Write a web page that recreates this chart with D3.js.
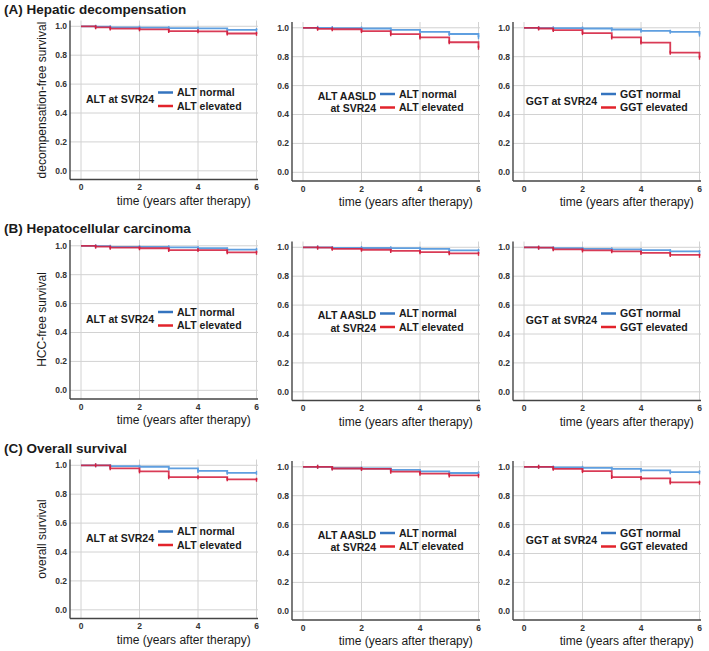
<!DOCTYPE html>
<html lang="en">
<head>
    <meta charset="UTF-8">
    <title>Kaplan-Meier after SVR24</title>
    <style>
        body {
            margin: 0;
            padding: 0;
            background: #fff;
            font-family: 'Liberation Sans', Arial, sans-serif;
        }
        svg text { fill: #1a1a1a; }
        .grid line { stroke: #d2d2d2; stroke-width: 1; }
        .frame { stroke: #444; stroke-width: 1.4; }
    </style>
    <script src="https://d3js.org/d3.v7.min.js"></script>
</head>
<body>
<div id="chart"></div>
<script>
    // follow-up times (years after therapy)
    const years = [0, 0.5, 1, 2, 3, 4, 5, 6];

    // (A) hepatic decompensation
    const decompAltNormal = [1, 0.997, 0.993, 0.991, 0.987, 0.985, 0.975, 0.974];
    const decompAltElevated = [1, 0.993, 0.984, 0.979, 0.967, 0.965, 0.950, 0.948];
    const decompAasldNormal = [1, 1, 0.998, 0.995, 0.986, 0.971, 0.957, 0.935];
    const decompAasldElevated = [1, 0.993, 0.990, 0.977, 0.956, 0.933, 0.900, 0.862];
    const decompGgtNormal = [1, 0.998, 0.997, 0.995, 0.988, 0.979, 0.972, 0.953];
    const decompGgtElevated = [1, 0.995, 0.984, 0.963, 0.933, 0.898, 0.828, 0.793];

    // (B) hepatocellular carcinoma
    const hccAltNormal = [1, 0.997, 0.993, 0.992, 0.989, 0.983, 0.973, 0.972];
    const hccAltElevated = [1, 0.994, 0.987, 0.983, 0.970, 0.970, 0.955, 0.952];
    const hccAasldNormal = [1, 1, 0.995, 0.995, 0.994, 0.989, 0.978, 0.975];
    const hccAasldElevated = [1, 0.997, 0.989, 0.983, 0.975, 0.966, 0.958, 0.955];
    const hccGgtNormal = [1, 0.998, 0.994, 0.989, 0.986, 0.980, 0.972, 0.966];
    const hccGgtElevated = [1, 0.997, 0.986, 0.978, 0.972, 0.961, 0.947, 0.941];

    // (C) overall survival
    const osAltNormal = [1, 1, 0.994, 0.990, 0.978, 0.961, 0.948, 0.948];
    const osAltElevated = [1, 1, 0.979, 0.958, 0.918, 0.918, 0.903, 0.900];
    const osAasldNormal = [1, 1, 0.990, 0.988, 0.978, 0.968, 0.957, 0.955];
    const osAasldElevated = [1, 1, 0.988, 0.985, 0.966, 0.952, 0.940, 0.938];
    const osGgtNormal = [1, 1, 0.995, 0.993, 0.986, 0.975, 0.963, 0.962];
    const osGgtElevated = [1, 1, 0.986, 0.970, 0.929, 0.920, 0.892, 0.890];

    const rowTitles = ["(A) Hepatic decompensation", "(B) Hepatocellular carcinoma", "(C) Overall survival"];
    const yTitles = ["decompensation-free survival", "HCC-free survival", "overall survival"];
    const groupTitles = [["ALT at SVR24"], ["ALT AASLD", "at SVR24"], ["GGT at SVR24"]];
    const normalLabels = ["ALT normal", "ALT normal", "GGT normal"];
    const elevatedLabels = ["ALT elevated", "ALT elevated", "GGT elevated"];
    const xTicks = [0, 2, 4, 6];
    const yTicks = [0, 0.2, 0.4, 0.6, 0.8, 1.0];
    const xTitle = "time (years after therapy)";

    const panels = [
        [[decompAltNormal, decompAltElevated], [decompAasldNormal, decompAasldElevated], [decompGgtNormal, decompGgtElevated]],
        [[hccAltNormal, hccAltElevated], [hccAasldNormal, hccAasldElevated], [hccGgtNormal, hccGgtElevated]],
        [[osAltNormal, osAltElevated], [osAasldNormal, osAasldElevated], [osGgtNormal, osGgtElevated]]
    ];

    const width = 709, height = 651;
    const colX = [70, 292, 513];
    const rowTop = [22, 241.5, 461];
    const plotW = 188, plotH = 159;
    const curveBlue = "#5f9fe0", curveRed = "#d4203f";
    const legBlue = "#3474bf", legRed = "#e2232b";

    const svg = d3.select("#chart").append("svg")
        .attr("width", width)
        .attr("height", height);

    rowTitles.forEach((t, r) => {
        svg.append("text")
            .attr("x", 4)
            .attr("y", rowTop[r] - 8.5)
            .style("font-size", "13.5px")
            .style("font-weight", "bold")
            .text(t);
    });

    panels.forEach((row, r) => {
        row.forEach((series, c) => {
            const dy = c === 0 ? -1.5 : 0;
            const x0 = colX[c];
            const top = rowTop[r] + dy;
            const bottom = top + plotH;

            const x = d3.scaleLinear().domain([0, 6]).range([x0 + 11, x0 + 186.5]);
            const y = d3.scaleLinear().domain([-0.06, 1.04]).range([bottom, top]);

            const g = svg.append("g");

            // grid
            const grid = g.append("g").attr("class", "grid");
            grid.selectAll(".h").data(yTicks).enter().append("line")
                .attr("x1", x0).attr("x2", x0 + plotW)
                .attr("y1", d => y(d)).attr("y2", d => y(d));
            grid.selectAll(".v").data(xTicks).enter().append("line")
                .attr("x1", d => x(d)).attr("x2", d => x(d))
                .attr("y1", top).attr("y2", bottom);

            // axes
            g.append("line").attr("class", "frame")
                .attr("x1", x0).attr("x2", x0).attr("y1", top).attr("y2", bottom);
            g.append("line").attr("class", "frame")
                .attr("x1", x0).attr("x2", x0 + plotW).attr("y1", bottom).attr("y2", bottom);

            g.selectAll(".yt").data(yTicks).enter().append("text")
                .attr("x", x0 - 3)
                .attr("y", d => y(d))
                .attr("dy", "0.35em")
                .attr("text-anchor", "end")
                .style("font-size", "8.5px")
                .style("font-weight", "bold")
                .style("fill", "#333")
                .text(d3.format(".1f"));
            g.selectAll(".xt").data(xTicks).enter().append("text")
                .attr("x", d => x(d))
                .attr("y", bottom + 8)
                .attr("dy", "0.35em")
                .attr("text-anchor", "middle")
                .style("font-size", "8.5px")
                .style("font-weight", "bold")
                .style("fill", "#333")
                .text(d => d);

            g.append("text")
                .attr("x", x(3) + 15)
                .attr("y", bottom + 21)
                .attr("dy", "0.35em")
                .attr("text-anchor", "middle")
                .style("font-size", "12px")
                .text(xTitle);

            if (c === 0) {
                g.append("text")
                    .attr("transform", `translate(${x0 - 28},${(top + bottom) / 2}) rotate(-90)`)
                    .attr("dy", "0.35em")
                    .attr("text-anchor", "middle")
                    .style("font-size", "12px")
                    .text(yTitles[r]);
            }

            // curves
            const line = d3.line()
                .x((d, i) => x(years[i]))
                .y(d => y(d))
                .curve(d3.curveStepAfter);

            [curveBlue, curveRed].forEach((col, k) => {
                const vals = series[k];
                g.append("path")
                    .attr("d", line(vals))
                    .attr("fill", "none")
                    .attr("stroke", col)
                    .attr("stroke-width", 1.8)
                    .attr("stroke-opacity", k === 1 ? 0.88 : 1);
                g.selectAll(".cens" + k).data(vals.slice(1)).enter().append("line")
                    .attr("x1", (d, i) => x(years[i + 1]))
                    .attr("x2", (d, i) => x(years[i + 1]))
                    .attr("y1", d => y(d) - 2)
                    .attr("y2", d => y(d) + 2)
                    .attr("stroke", col)
                    .attr("stroke-width", 1.4);
            });

            // legend
            const lg = g.append("g").style("font-size", "10.5px").style("font-weight", "bold");
            const titles = groupTitles[c];
            titles.forEach((t, i) => {
                const ty = titles.length === 1 ? bottom - 80 : bottom - 85 + i * 12.5;
                lg.append("text")
                    .attr("x", x0 + 84)
                    .attr("y", ty)
                    .attr("dy", "0.35em")
                    .attr("text-anchor", "end")
                    .text(t);
            });
            [[legBlue, normalLabels[c], bottom - 87], [legRed, elevatedLabels[c], bottom - 73.5]].forEach(([col, lab, ly]) => {
                lg.append("line")
                    .attr("x1", x0 + 88).attr("x2", x0 + 103)
                    .attr("y1", ly).attr("y2", ly)
                    .attr("stroke", col)
                    .attr("stroke-width", 2.5);
                lg.append("text")
                    .attr("x", x0 + 107)
                    .attr("y", ly)
                    .attr("dy", "0.35em")
                    .text(lab);
            });
        });
    });
</script>
</body>
</html>
